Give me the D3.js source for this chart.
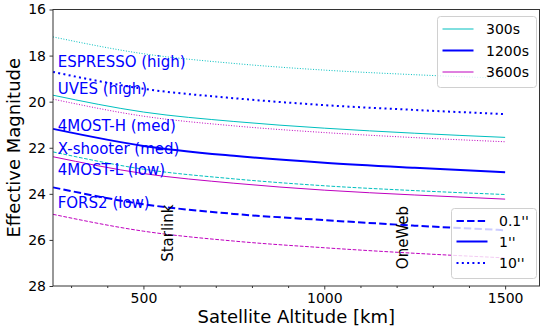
<!DOCTYPE html>
<meta charset="utf-8">
<style>
body { margin: 0; background: #fff; }
svg { font-family: "DejaVu Sans", sans-serif; }
.tick text { font-size: 14px; fill: #000; }
.axis-label { font-size: 18px; fill: #000; }
.inst { font-size: 15px; fill: #0000ff; }
.const { font-size: 15px; fill: #000; }
.legend-elem text { font-size: 14px; fill: #000; dominant-baseline: central; }
</style>
<body>
<svg width="540" height="336"></svg>

<script src="https://d3js.org/d3.v7.min.js"></script>
<script>

// Data (effective magnitude vs altitude)
var altitudes = [250, 500, 750, 1000, 1250, 1500];

var mag300_10  = [17.19, 17.92, 18.34, 18.63, 18.83, 18.99];
var mag300_1   = [19.72, 20.45, 20.86, 21.15, 21.37, 21.55];
var mag300_01  = [22.18, 22.93, 23.35, 23.65, 23.86, 24.03];
var mag1200_10 = [18.71, 19.44, 19.85, 20.15, 20.36, 20.54];
var mag1200_1  = [21.18, 21.92, 22.35, 22.65, 22.87, 23.06];
var mag1200_01 = [23.72, 24.45, 24.87, 25.14, 25.38, 25.58];
var mag3600_10 = [19.89, 20.63, 21.05, 21.34, 21.56, 21.74];
var mag3600_1  = [22.39, 23.12, 23.54, 23.84, 24.05, 24.23];
var mag3600_01 = [24.89, 25.62, 26.05, 26.34, 26.58, 26.78];

var exposures = ["300s", "1200s", "3600s"];
var seeings = ["0.1''", "1''", "10''"];

var instruments = ["ESPRESSO (high)", "UVES (high)", "4MOST-H (med)", "X-shooter (med)", "4MOST-L (low)", "FORS2 (low)"];
var instrumentMag = [18.49, 19.67, 21.28, 22.29, 23.19, 24.63];
var instrumentAlt = 263;

var constellations = ["Starlink", "OneWeb"];
var constellationAlt = [550, 1200];
var constellationMag = [26.95, 27.27];

var xTicks = [500, 1000, 1500];
var xMinor = [300, 400, 600, 700, 800, 900, 1100, 1200, 1300, 1400];
var yTicks = [16, 18, 20, 22, 24, 26, 28];

// svg element
var svg = d3.select("svg");
var mLeft = 53, mRight = 539.5, mTop = 9.5, mBottom = 286;

var x = d3.scaleLinear().domain([250, 1595]).range([mLeft, mRight]);
var y = d3.scaleLinear().domain([16, 28]).range([mTop, mBottom]);

var color = d3.scaleOrdinal().domain(exposures).range(["#00bfbf", "#0000ff", "#bf00bf"]);
var width = { "300s": 1, "1200s": 2, "3600s": 1 };
function dash(seeing, lw) {
  if (seeing === "0.1''") return (3.7 * lw) + "," + (1.6 * lw);
  if (seeing === "10''") return lw + "," + (1.65 * lw);
  return null;
}

var series = [
  { exp: "300s",  see: "10''",  v: mag300_10 },
  { exp: "1200s", see: "10''",  v: mag1200_10 },
  { exp: "3600s", see: "10''",  v: mag3600_10 },
  { exp: "300s",  see: "1''",   v: mag300_1 },
  { exp: "1200s", see: "1''",   v: mag1200_1 },
  { exp: "3600s", see: "1''",   v: mag3600_1 },
  { exp: "300s",  see: "0.1''", v: mag300_01 },
  { exp: "1200s", see: "0.1''", v: mag1200_01 },
  { exp: "3600s", see: "0.1''", v: mag3600_01 }
];

var line = d3.line()
    .x((d, i) => x(altitudes[i]))
    .y(d => y(d))
    .curve(d3.curveMonotoneX);

svg.append("g").selectAll("path")
  .data(series)
  .join("path")
    .attr("fill", "none")
    .attr("stroke", d => color(d.exp))
    .attr("stroke-width", d => width[d.exp])
    .attr("stroke-dasharray", d => dash(d.see, width[d.exp]))
    .attr("d", d => line(d.v));

// Axes
svg.append("g")
    .attr("transform", "translate(0," + mBottom + ")")
    .call(d3.axisBottom(x).tickValues(xTicks).tickSize(3.5).tickPadding(3.5).tickFormat(d3.format("d")));
svg.append("g")
    .attr("transform", "translate(0," + mBottom + ")")
    .call(d3.axisBottom(x).tickValues(xMinor).tickSize(2).tickFormat(""));
svg.append("g")
    .attr("transform", "translate(" + mLeft + ",0)")
    .call(d3.axisLeft(y).tickValues(yTicks).tickSize(3.5).tickPadding(3.5));

svg.selectAll(".tick line").attr("stroke", "#000").attr("stroke-width", 0.8);
svg.selectAll(".domain").remove();
svg.selectAll(".tick text").style("font-family", "DejaVu Sans").style("font-size", "14px");

svg.append("rect")
    .attr("x", mLeft).attr("y", mTop)
    .attr("width", mRight - mLeft).attr("height", mBottom - mTop)
    .attr("fill", "none").attr("stroke", "#333").attr("stroke-width", 1);

svg.append("text")
    .attr("class", "axis-label")
    .attr("x", (mLeft + mRight) / 2).attr("y", 323)
    .attr("text-anchor", "middle")
    .text("Satellite Altitude [km]");

svg.append("text")
    .attr("class", "axis-label")
    .attr("transform", "translate(20," + ((mTop + mBottom) / 2) + ") rotate(-90)")
    .attr("text-anchor", "middle")
    .text("Effective Magnitude");

// Instrument labels
svg.append("g").selectAll("text")
  .data(instruments)
  .join("text")
    .attr("class", "inst")
    .attr("x", x(instrumentAlt))
    .attr("y", (d, i) => y(instrumentMag[i]))
    .text(d => d);

// Constellation labels
svg.append("g").selectAll("text")
  .data(constellations)
  .join("text")
    .attr("class", "const")
    .attr("transform", (d, i) => "translate(" + x(constellationAlt[i]) + "," + y(constellationMag[i]) + ") rotate(-90)")
    .attr("dy", "0.78em")
    .text(d => d);

// Legends
function drawLegend(items, bx, by, bw, bh, rowY, lx0, lx1, tx, stroke, sw, dsh) {
  var g = svg.append("g").attr("class", "legend");
  g.append("rect")
      .attr("x", bx).attr("y", by).attr("width", bw).attr("height", bh)
      .attr("rx", 3)
      .attr("fill", "#fff").attr("fill-opacity", 0.8)
      .attr("stroke", "#d0d0d0").attr("stroke-width", 1);
  var el = g.selectAll(".legend-elem")
    .data(items)
    .join("g")
      .attr("class", "legend-elem")
      .attr("transform", (d, i) => "translate(0," + (by + rowY[i]) + ")");
  el.append("line")
      .attr("x1", lx0).attr("x2", lx1)
      .attr("stroke", stroke).attr("stroke-width", sw)
      .attr("stroke-dasharray", dsh);
  el.append("text").attr("x", tx).text(d => d);
}

drawLegend(exposures, 437.5, 16.5, 99, 71, [12.5, 34, 55.5], 442.5, 473.5, 486,
  d => color(d), d => width[d], null);
drawLegend(seeings, 451.5, 208.5, 85, 70, [12.5, 33, 54.5], 456.5, 487.5, 499,
  "#0000ff", 2, d => dash(d, 2));

</script>
</body>
